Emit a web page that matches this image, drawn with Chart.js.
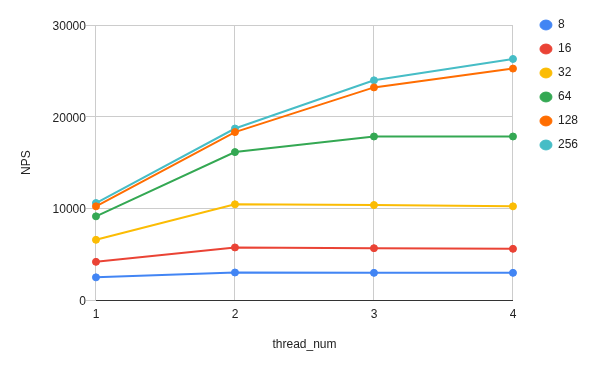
<!DOCTYPE html>
<html>
<head>
<meta charset="utf-8">
<script src="https://cdn.jsdelivr.net/npm/chart.js"></script>
<style>
  html, body { margin: 0; padding: 0; background: #fff; }
  #wrap { width: 600px; height: 371px; }
</style>
</head>
<body>
<div id="wrap"><canvas id="nps-chart" width="600" height="371"></canvas></div>
<script>
const threads = ["1", "2", "3", "4"];
const seriesNames = ["8", "16", "32", "64", "128", "256"];
const nps8 = [2500, 3030, 2990, 2990];
const nps16 = [4190, 5760, 5680, 5610];
const nps32 = [6590, 10460, 10380, 10240];
const nps64 = [9150, 16150, 17850, 17850];
const nps128 = [10240, 18330, 23200, 25250];
const nps256 = [10600, 18720, 23970, 26300];
const yTicks = [0, 10000, 20000, 30000];

const colors = ["#4285F4", "#EA4335", "#FBBC04", "#34A853", "#FF6D01", "#46BDC6"];
const values = [nps8, nps16, nps32, nps64, nps128, nps256];

const datasets = seriesNames.map(function (name, i) {
  return {
    label: name,
    data: values[i],
    borderColor: colors[i],
    backgroundColor: colors[i],
    pointBackgroundColor: colors[i],
    pointBorderColor: colors[i],
    borderWidth: 2,
    pointRadius: 3.5,
    pointBorderWidth: 1,
    tension: 0
  };
});

Chart.defaults.font.family = "'Liberation Sans', Arial, sans-serif";
Chart.defaults.font.size = 12;
Chart.defaults.color = "#222";

new Chart(document.getElementById("nps-chart").getContext("2d"), {
  type: "line",
  data: { labels: threads, datasets: datasets },
  options: {
    responsive: false,
    animation: false,
    layout: { padding: { left: 10, top: 7, right: 12, bottom: 10 } },
    plugins: {
      // empty title / subtitle only reserve space around the plot
      title: { display: true, text: "", position: "top", fullSize: false, padding: { top: 0, bottom: 3.6 } },
      subtitle: { display: true, text: "", position: "right", fullSize: false, weight: 500, font: { size: 10 }, padding: { top: 0, bottom: 3 } },
      legend: {
        position: "right",
        align: "start",
        labels: {
          usePointStyle: true,
          pointStyle: "circle",
          pointStyleWidth: 12,
          boxHeight: 7,
          padding: 12,
          color: "#222",
          font: { size: 12 }
        }
      },
      tooltip: { enabled: false }
    },
    scales: {
      x: {
        type: "category",
        offset: false,
        grid: { color: "#ccc", drawTicks: false, offset: false },
        border: { color: "#333", width: 1 },
        ticks: { padding: 6.7, color: "#222" },
        title: { display: true, text: "thread_num", color: "#222", padding: { top: 9.8, bottom: 8.7 } }
      },
      y: {
        min: 0,
        max: 30000,
        afterBuildTicks: function (scale) {
          scale.ticks = yTicks.map(function (v) { return { value: v }; });
        },
        grid: { color: "#ccc", tickLength: 10 },
        border: { color: "#ccc" },
        ticks: { padding: 0, labelOffset: 1.5, color: "#222", callback: function (v) { return String(v); } },
        title: { display: true, text: "NPS", color: "#222", padding: { top: 9.8, bottom: 18.4 } }
      }
    }
  }
});
</script>
</body>
</html>
